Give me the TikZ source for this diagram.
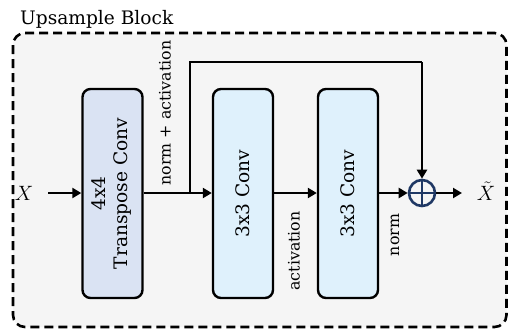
\documentclass[tikz,border=0pt]{standalone}
\usepackage{fontspec}
\setmainfont{DejaVu Serif}
\usetikzlibrary{arrows.meta,calc}

\definecolor{panelbg}{HTML}{F5F5F5}
\definecolor{tconvfill}{HTML}{DAE3F3}
\definecolor{convfill}{HTML}{DFF1FC}
\definecolor{sumcol}{HTML}{1F3864}

\tikzset{
  blockbox/.style={draw=black, line width=2.4pt, rounded corners=8pt,
    minimum width=60pt, minimum height=209pt, inner sep=0pt,
    font=\fontsize{18.6}{22}\selectfont, align=center},
  flow/.style={line width=2.8pt, -{Triangle[length=9pt,width=10pt]}},
  wire/.style={line width=2.8pt},
  sidelabel/.style={rotate=90, font=\fontsize{15.8}{18}\selectfont, inner sep=0pt},
}

\begin{document}
\begin{tikzpicture}[x=1pt,y=-1pt]
  \useasboundingbox (0,0) rectangle (509,335);

  % outer dashed panel
  \draw[panelbg, fill=panelbg, rounded corners=12pt] (13,33) rectangle (506.5,327);
  \draw[black, line width=2.6pt, dash pattern=on 9pt off 5pt, rounded corners=12pt]
    (13,33) rectangle (506.5,327);
  \node[anchor=base west, font=\fontsize{18.6}{22}\selectfont, inner sep=0pt]
    (title) at (20,24) {Upsample Block};

  % processing blocks
  \node[blockbox, fill=tconvfill] (tconv) at (112.5,193.5)
    {\rotatebox{90}{\begin{tabular}{c}4x4\\Transpose Conv\end{tabular}}};
  \node[blockbox, fill=convfill] (conva) at (243,193.5) {\rotatebox{90}{3x3 Conv}};
  \node[blockbox, fill=convfill] (convb) at (348,193.5) {\rotatebox{90}{3x3 Conv}};

  % sum node
  \node[circle, draw=sumcol, line width=2.6pt, minimum size=26pt, inner sep=0pt] (sum) at (422,193) {};
  \draw[sumcol, line width=2.6pt] (sum.north) -- (sum.south) (sum.west) -- (sum.east);

  % input / output
  \node[inner sep=0pt, font=\fontsize{22}{24}\selectfont] (xin) at (24,193) {$X$};
  \node[inner sep=0pt, font=\fontsize{22}{24}\selectfont] (xout) at (486,191) {$\tilde{X}$};
  \coordinate (instart) at (48,193);
  \coordinate (outend) at (462,193);
  \coordinate (branch) at (190,193);
  \coordinate (skipa) at (190,62);
  \coordinate (skipb) at (422,62);

  % connectors
  \draw[flow] (instart) -- (tconv.west |- instart);
  \draw[flow] (tconv.east |- branch) -- (conva.west |- branch);
  \draw[flow] (conva.east |- branch) -- (convb.west |- branch);
  \draw[flow] (convb.east |- branch) -- (sum.west);
  \draw[flow] (sum.east) -- (outend);
  \draw[wire, line join=miter] (branch) -- (skipa) -- (skipb);
  \draw[flow] (skipb) -- (sum.north);

  % connector labels
  \node[sidelabel] (lblna) at (165,113) {norm + activation};
  \node[sidelabel] (lblact) at (294,251) {activation};
  \node[sidelabel] (lblnorm) at (395,235) {norm};
\end{tikzpicture}
\end{document}
